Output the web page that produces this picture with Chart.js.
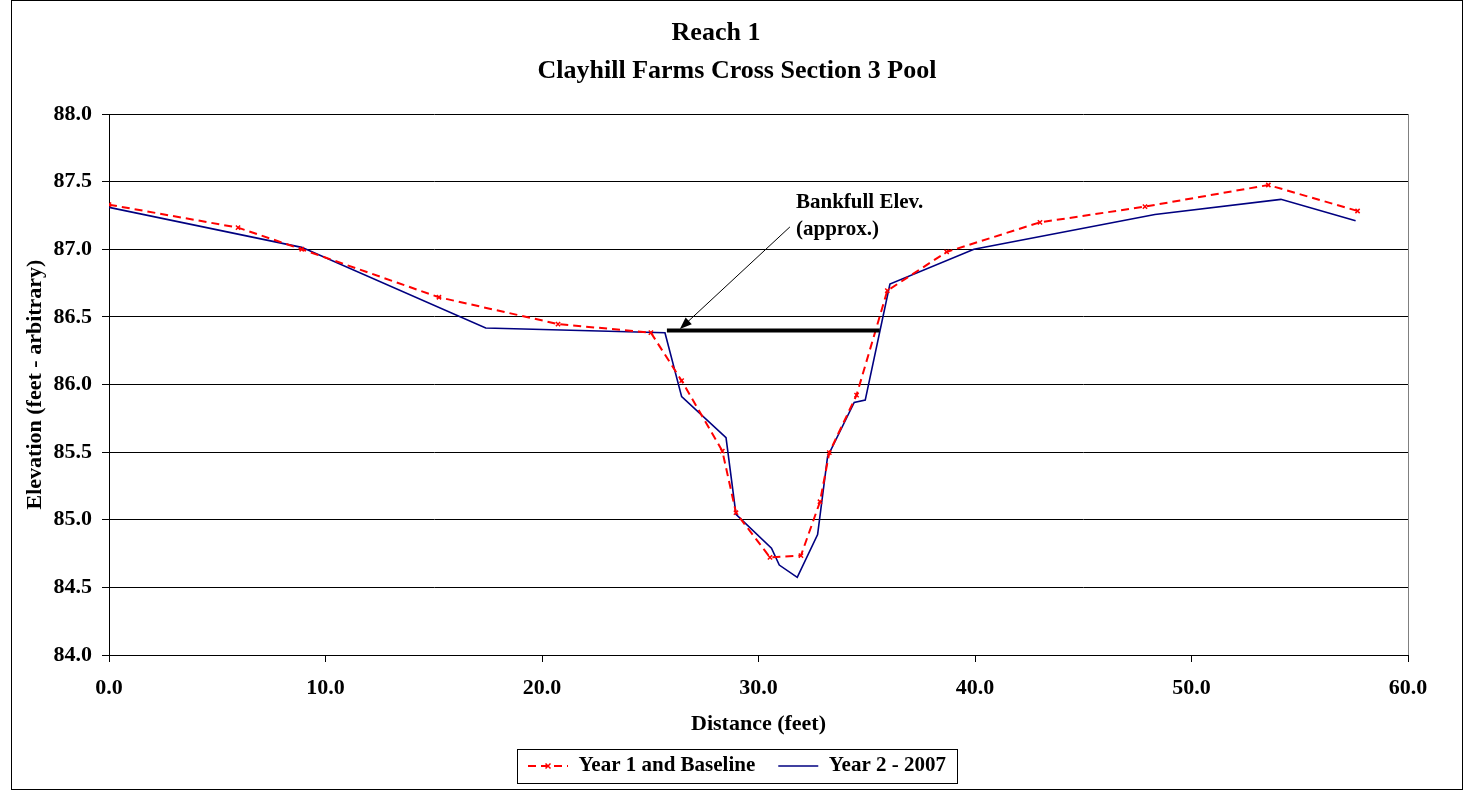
<!DOCTYPE html>
<html>
<head>
<meta charset="utf-8">
<title>Reach 1 - Clayhill Farms Cross Section 3 Pool</title>
<script src="https://cdn.jsdelivr.net/npm/chart.js@4.4.1/dist/chart.umd.min.js"></script>
<style>
  html, body { margin: 0; padding: 0; background: #ffffff; }
  #wrap { width: 1469px; height: 792px; }
</style>
</head>
<body>
<div id="wrap"><canvas id="xs" width="1469" height="792"></canvas></div>
<script>
// ---- survey data ----
const seriesNames = ['Year 1 and Baseline', 'Year 2 - 2007'];

// Year 1 / baseline survey: station (ft) and elevation (ft)
const year1Distance  = [0, 5.96, 8.9, 15.24, 20.74, 25.03, 26.45, 28.33, 28.96, 30.53,
                        31.96, 32.84, 33.27, 34.53, 35.95, 38.69, 43.0, 47.85, 53.55, 57.67];
const year1Elevation = [87.33, 87.16, 87.0, 86.645, 86.447, 86.383, 86.028, 85.508, 85.052, 84.722,
                        84.735, 85.133, 85.496, 85.922, 86.694, 86.98, 87.199, 87.315, 87.475, 87.283];

// Year 2 (2007) survey
const year2Distance  = [0, 8.9, 17.4, 25.68, 26.45, 28.5, 28.96, 30.6, 30.96, 31.79,
                        32.73, 33.19, 34.42, 34.93, 36.07, 39.95, 48.31, 54.13, 57.58];
const year2Elevation = [87.31, 87.014, 86.418, 86.383, 85.91, 85.607, 85.04, 84.79, 84.665, 84.574,
                        84.89, 85.466, 85.868, 85.885, 86.743, 87.0, 87.257, 87.369, 87.211];

// approximate bankfull elevation across the channel
const bankfullDistance  = [25.77, 35.6];
const bankfullElevation = [86.4, 86.4];

// axis tick values
const distanceTicks  = [0, 10, 20, 30, 40, 50, 60];
const elevationTicks = [84.0, 84.5, 85.0, 85.5, 86.0, 86.5, 87.0, 87.5, 88.0];

// text
const titleText    = 'Reach 1';
const subtitleText = 'Clayhill Farms Cross Section 3 Pool';
const xAxisTitle   = 'Distance (feet)';
const yAxisTitle   = 'Elevation (feet - arbitrary)';
const noteLines    = ['Bankfull Elev.', '(approx.)'];

// callout placement, in axis units (distance, elevation)
const noteAnchorX   = 31.73;
const noteBaselines = [87.305, 87.105];
const arrowTail = [31.45, 87.165];
const arrowTip  = [26.37, 86.41];

// ---- layout / style ----
const FONT = "'Liberation Serif', 'Times New Roman', Times, serif";
const frame = { left: 11.5, top: 0.5, right: 1462.5, bottom: 789.5 };
const titleCenterX = 716;
const plotLeft = 109;
const year1Dash = [8, 5];

Chart.defaults.font.family = FONT;
Chart.defaults.font.weight = 'bold';
Chart.defaults.color = '#000000';

const toPoints = (xs, ys) => xs.map((x, i) => ({ x, y: ys[i] }));

const decorations = {
  id: 'decorations',
  afterLayout(chart) {
    // horizontal placement of the heading blocks and the key
    const sub = chart.boxes.find(b => b.options && b.options.text === subtitleText);
    const frameMid = (frame.left + frame.right) / 2;
    const place = (box, cx) => {
      if (!box) return;
      const dx = cx - (box.left + box.right) / 2;
      box.left += dx; box.right += dx;
    };
    place(chart.titleBlock, titleCenterX);
    place(sub, frameMid);
    place(chart.legend, frameMid);
  },
  beforeDatasetsDraw(chart) {
    // right edge of the plot frame
    const { ctx, chartArea: a } = chart;
    ctx.save();
    ctx.strokeStyle = '#808080';
    ctx.lineWidth = 1;
    ctx.beginPath();
    const xr = Math.round(a.right) + 0.5;
    ctx.moveTo(xr, a.top);
    ctx.lineTo(xr, a.bottom);
    ctx.stroke();
    ctx.restore();
  },
  afterDraw(chart) {
    const { ctx } = chart;
    const sx = chart.scales.x, sy = chart.scales.y;
    ctx.save();

    // callout text
    ctx.fillStyle = '#000';
    ctx.font = 'bold 21px ' + FONT;
    ctx.textAlign = 'left';
    ctx.textBaseline = 'alphabetic';
    noteLines.forEach((t, i) => {
      ctx.fillText(t, sx.getPixelForValue(noteAnchorX), sy.getPixelForValue(noteBaselines[i]));
    });

    // callout arrow
    const x0 = sx.getPixelForValue(arrowTail[0]), y0 = sy.getPixelForValue(arrowTail[1]);
    const x1 = sx.getPixelForValue(arrowTip[0]),  y1 = sy.getPixelForValue(arrowTip[1]);
    const ang = Math.atan2(y1 - y0, x1 - x0);
    const headLen = 12, headHalf = 4.5;
    ctx.strokeStyle = '#000';
    ctx.lineWidth = 1;
    ctx.beginPath();
    ctx.moveTo(x0, y0);
    ctx.lineTo(x1 - Math.cos(ang) * headLen * 0.8, y1 - Math.sin(ang) * headLen * 0.8);
    ctx.stroke();
    ctx.beginPath();
    ctx.moveTo(x1, y1);
    ctx.lineTo(x1 - Math.cos(ang) * headLen - Math.sin(ang) * headHalf,
               y1 - Math.sin(ang) * headLen + Math.cos(ang) * headHalf);
    ctx.lineTo(x1 - Math.cos(ang) * headLen + Math.sin(ang) * headHalf,
               y1 - Math.sin(ang) * headLen - Math.cos(ang) * headHalf);
    ctx.closePath();
    ctx.fill();

    // key frame and the marker on the dashed sample
    const lg = chart.legend;
    const boxes = lg.legendHitBoxes;
    if (boxes && boxes.length) {
      const first = boxes[0], last = boxes[boxes.length - 1];
      const fs = lg.options.labels.font.size;
      const cy = first.top + fs / 2;
      ctx.strokeStyle = '#000';
      ctx.lineWidth = 1;
      ctx.strokeRect(Math.round(first.left - 11) + 0.5, Math.round(cy - 17) + 0.5,
                     Math.round(last.left + last.width + 22 - first.left), 34);
      const bw = lg.options.labels.pointStyleWidth;
      const mx = first.left + bw / 2;
      ctx.strokeStyle = '#ff0000';
      ctx.lineWidth = 1.5;
      ctx.beginPath();
      ctx.moveTo(mx - 2.5, cy - 2.5); ctx.lineTo(mx + 2.5, cy + 2.5);
      ctx.moveTo(mx - 2.5, cy + 2.5); ctx.lineTo(mx + 2.5, cy - 2.5);
      ctx.stroke();
    }

    // outer frame
    ctx.strokeStyle = '#000';
    ctx.lineWidth = 1;
    ctx.strokeRect(frame.left, frame.top, frame.right - frame.left, frame.bottom - frame.top);
    ctx.restore();
  }
};

new Chart(document.getElementById('xs'), {
  type: 'scatter',
  data: {
    datasets: [
      {
        label: seriesNames[0],
        data: toPoints(year1Distance, year1Elevation),
        showLine: true,
        borderColor: '#ff0000',
        backgroundColor: '#ff0000',
        borderWidth: 2,
        borderDash: year1Dash,
        pointStyle: 'crossRot',
        pointRadius: 3,
        pointBorderWidth: 1.5,
        pointBorderColor: '#ff0000',
        tension: 0,
        order: 1
      },
      {
        label: seriesNames[1],
        data: toPoints(year2Distance, year2Elevation),
        showLine: true,
        borderColor: '#000080',
        backgroundColor: '#000080',
        borderWidth: 1.6,
        pointRadius: 0,
        tension: 0,
        order: 2
      },
      {
        label: 'Bankfull',
        data: toPoints(bankfullDistance, bankfullElevation),
        showLine: true,
        borderColor: '#000000',
        backgroundColor: '#000000',
        borderWidth: 4,
        pointRadius: 0,
        order: 0
      }
    ]
  },
  options: {
    responsive: false,
    animation: false,
    devicePixelRatio: 1,
    layout: { padding: { top: 0, left: 12, right: 61, bottom: 5.5 } },
    plugins: {
      title: {
        display: true,
        text: titleText,
        color: '#000',
        font: { size: 26, weight: 'bold', lineHeight: 1.2 },
        padding: { top: 18, bottom: 6 }
      },
      subtitle: {
        display: true,
        text: subtitleText,
        color: '#000',
        font: { size: 26, weight: 'bold', lineHeight: 1.2 },
        padding: { top: 0, bottom: 27.6 }
      },
      legend: {
        display: true,
        position: 'bottom',
        labels: {
          color: '#000',
          font: { size: 21, weight: 'bold' },
          usePointStyle: true,
          pointStyleWidth: 40,
          padding: 23,
          filter: item => seriesNames.includes(item.text),
          generateLabels(chart) {
            const items = Chart.defaults.plugins.legend.labels.generateLabels(chart);
            items.forEach(it => {
              const ds = chart.data.datasets[it.datasetIndex];
              it.pointStyle = 'line';
              it.fontColor = '#000';
              it.strokeStyle = ds.borderColor;
              it.lineWidth = ds.borderWidth;
              it.lineDash = ds.borderDash || [];
            });
            return items;
          }
        }
      },
      tooltip: { enabled: false }
    },
    scales: {
      x: {
        type: 'linear',
        min: 0,
        max: 60,
        afterBuildTicks: s => { s.ticks = distanceTicks.map(v => ({ value: v })); },
        afterFit: s => { s.height = 77.5; },
        ticks: {
          callback: v => Number(v).toFixed(1),
          font: { size: 22, weight: 'bold' },
          color: '#000',
          padding: 13,
          maxRotation: 0
        },
        grid: { drawOnChartArea: false, drawTicks: true, tickLength: 7, tickColor: '#000', color: '#000' },
        border: { color: '#000', width: 1 },
        title: {
          display: true,
          text: xAxisTitle,
          color: '#000',
          font: { size: 22, weight: 'bold', lineHeight: 1 },
          padding: { top: 0, bottom: -2.5 }
        }
      },
      y: {
        type: 'linear',
        min: 84,
        max: 88,
        afterBuildTicks: s => { s.ticks = elevationTicks.map(v => ({ value: v })); },
        afterFit: s => { s.width = plotLeft - 12; },
        ticks: {
          callback: v => Number(v).toFixed(1),
          font: { size: 22, weight: 'bold' },
          color: '#000',
          padding: 10
        },
        grid: { color: '#000', lineWidth: 1, drawTicks: true, tickLength: 7, tickColor: '#000' },
        border: { color: '#000', width: 1 },
        title: {
          display: true,
          text: yAxisTitle,
          color: '#000',
          font: { size: 22, weight: 'bold', lineHeight: 1 },
          padding: { top: 12, bottom: 0 }
        }
      }
    }
  },
  plugins: [decorations]
});
</script>
</body>
</html>
